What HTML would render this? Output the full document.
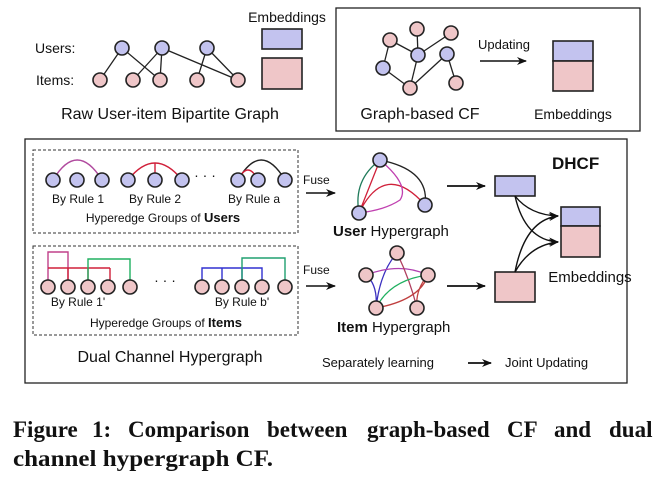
<!DOCTYPE html>
<html><head><meta charset="utf-8"><style>
html,body{margin:0;padding:0;background:#fff}
svg{display:block}
text{font-family:"Liberation Sans",sans-serif;fill:#111}
.c{font-family:"Liberation Serif",serif;font-weight:bold;font-size:23px}
.u{fill:#c3c3ef;stroke:#222;stroke-width:1.6}
.i{fill:#efc6c8;stroke:#222;stroke-width:1.6}
.e{stroke:#222;stroke-width:1.3;fill:none}
</style></head><body>
<svg width="667" height="482" viewBox="0 0 667 482" xmlns="http://www.w3.org/2000/svg">
<defs><marker id="a" markerWidth="10" markerHeight="8" refX="9" refY="4" orient="auto" markerUnits="userSpaceOnUse"><path d="M0,0 L10,4 L0,8 L3,4z" fill="#111"/></marker></defs>
<!-- top-left -->
<text x="35" y="53" font-size="14">Users:</text>
<text x="36" y="85" font-size="14">Items:</text>
<g class="e">
<line x1="122" y1="48" x2="100" y2="80"/><line x1="122" y1="48" x2="160" y2="80"/>
<line x1="162" y1="48" x2="133" y2="80"/><line x1="162" y1="48" x2="160" y2="80"/><line x1="162" y1="48" x2="238" y2="80"/>
<line x1="207" y1="48" x2="197" y2="80"/><line x1="207" y1="48" x2="238" y2="80"/>
</g>
<circle class="u" cx="122" cy="48" r="7"/><circle class="u" cx="162" cy="48" r="7"/><circle class="u" cx="207" cy="48" r="7"/>
<circle class="i" cx="100" cy="80" r="7"/><circle class="i" cx="133" cy="80" r="7"/><circle class="i" cx="160" cy="80" r="7"/><circle class="i" cx="197" cy="80" r="7"/><circle class="i" cx="238" cy="80" r="7"/>
<text x="170" y="119" font-size="16" text-anchor="middle">Raw User-item Bipartite Graph</text>
<text x="287" y="22" font-size="14" text-anchor="middle">Embeddings</text>
<rect x="262" y="29" width="40" height="20" class="u"/>
<rect x="262" y="58" width="40" height="31" class="i"/>
<!-- top-right box -->
<rect x="336" y="8" width="304" height="123" fill="none" stroke="#222" stroke-width="1.3"/>
<g class="e">
<line x1="390" y1="40" x2="383" y2="68"/><line x1="390" y1="40" x2="418" y2="55"/><line x1="417" y1="29" x2="418" y2="55"/><line x1="451" y1="33" x2="418" y2="55"/><line x1="418" y1="55" x2="410" y2="88"/><line x1="383" y1="68" x2="410" y2="88"/><line x1="410" y1="88" x2="447" y2="54"/><line x1="447" y1="54" x2="456" y2="83"/>
</g>
<circle class="i" cx="390" cy="40" r="7"/><circle class="i" cx="417" cy="29" r="7"/><circle class="i" cx="451" cy="33" r="7"/>
<circle class="u" cx="383" cy="68" r="7"/><circle class="u" cx="418" cy="55" r="7"/><circle class="u" cx="447" cy="54" r="7"/>
<circle class="i" cx="410" cy="88" r="7"/><circle class="i" cx="456" cy="83" r="7"/>
<text x="504" y="49" font-size="13" text-anchor="middle">Updating</text>
<line x1="480" y1="61" x2="526" y2="61" stroke="#111" stroke-width="1.5" marker-end="url(#a)"/>
<rect x="553" y="41" width="40" height="20" class="u"/><rect x="553" y="61" width="40" height="30" class="i"/>
<text x="420" y="119" font-size="16" text-anchor="middle">Graph-based CF</text>
<text x="573" y="119" font-size="14" text-anchor="middle">Embeddings</text>
<!-- bottom box -->
<rect x="25" y="139" width="602" height="244" fill="none" stroke="#222" stroke-width="1.3"/>
<rect x="33" y="150" width="265" height="83" fill="none" stroke="#333" stroke-dasharray="3,2"/>
<rect x="33" y="246" width="265" height="89" fill="none" stroke="#333" stroke-dasharray="3,2"/>
<path d="M53,180 Q77,140 102,180" stroke="#b04a9e" stroke-width="1.4" fill="none"/>
<path d="M128,180 Q155,146 182,180" stroke="#d0203a" stroke-width="1.4" fill="none"/>
<line x1="155" y1="163" x2="155" y2="180" stroke="#d0203a" stroke-width="1.4"/>
<path d="M238,180 Q261,140 285,180" stroke="#222" stroke-width="1.4" fill="none"/>
<path d="M238,180 Q248,160 258,180" stroke="#d0203a" stroke-width="1.4" fill="none"/>
<circle class="u" cx="53" cy="180" r="7"/><circle class="u" cx="77" cy="180" r="7"/><circle class="u" cx="102" cy="180" r="7"/>
<circle class="u" cx="128" cy="180" r="7"/><circle class="u" cx="155" cy="180" r="7"/><circle class="u" cx="182" cy="180" r="7"/>
<circle class="u" cx="238" cy="180" r="7"/><circle class="u" cx="258" cy="180" r="7"/><circle class="u" cx="285" cy="180" r="7"/>
<text x="205" y="180" font-size="14" text-anchor="middle">· · ·</text>
<text x="78" y="203" font-size="12" text-anchor="middle">By Rule 1</text>
<text x="155" y="203" font-size="12" text-anchor="middle">By Rule 2</text>
<text x="254" y="203" font-size="12" text-anchor="middle">By Rule a</text>
<text x="163" y="222" font-size="12" text-anchor="middle">Hyperedge Groups of <tspan font-weight="bold" font-size="13">Users</tspan></text>
<!-- item hyperedges -->
<g fill="none" stroke-width="1.4">
<path d="M48,287 V252 H68 V287" stroke="#c0408a"/>
<path d="M48,268 H110 M68,268 V287 M88,268 V287 M110,268 V287" stroke="#d0203a"/>
<path d="M88,287 V259 H130 V287" stroke="#20b060"/>
<path d="M202,287 V268 H262 V287 M222,268 V287 M242,268 V287" stroke="#3030d0"/>
<path d="M242,287 V258 H285 V287" stroke="#20a070"/>
</g>
<circle class="i" cx="48" cy="287" r="7"/><circle class="i" cx="68" cy="287" r="7"/><circle class="i" cx="88" cy="287" r="7"/><circle class="i" cx="108" cy="287" r="7"/><circle class="i" cx="130" cy="287" r="7"/>
<circle class="i" cx="202" cy="287" r="7"/><circle class="i" cx="222" cy="287" r="7"/><circle class="i" cx="242" cy="287" r="7"/><circle class="i" cx="262" cy="287" r="7"/><circle class="i" cx="285" cy="287" r="7"/>
<text x="165" y="285" font-size="14" text-anchor="middle">· · ·</text>
<text x="78" y="306" font-size="12" text-anchor="middle">By Rule 1'</text>
<text x="242" y="306" font-size="12" text-anchor="middle">By Rule b'</text>
<text x="166" y="327" font-size="12" text-anchor="middle">Hyperedge Groups of <tspan font-weight="bold" font-size="13">Items</tspan></text>
<text x="170" y="362" font-size="16" text-anchor="middle">Dual Channel Hypergraph</text>
<!-- fuse -->
<text x="303" y="184" font-size="12">Fuse</text>
<line x1="306" y1="193" x2="335" y2="193" stroke="#111" stroke-width="1.5" marker-end="url(#a)"/>
<text x="303" y="274" font-size="12">Fuse</text>
<line x1="306" y1="286" x2="335" y2="286" stroke="#111" stroke-width="1.5" marker-end="url(#a)"/>
<!-- user hypergraph -->
<g fill="none" stroke-width="1.3">
<path d="M380,160 Q353,180 359,213" stroke="#1f7a5a"/>
<path d="M380,160 Q430,170 425,205" stroke="#222"/>
<path d="M380,160 L359,213 M359,213 Q385,160 425,205" stroke="#d0203a"/>
<path d="M380,160 Q410,185 400,200 Q385,210 359,213" stroke="#c040b0"/>
</g>
<circle class="u" cx="380" cy="160" r="7"/><circle class="u" cx="359" cy="213" r="7"/><circle class="u" cx="425" cy="205" r="7"/>
<text x="333" y="236" font-size="15"><tspan font-weight="bold">User</tspan> Hypergraph</text>
<!-- item hypergraph -->
<g fill="none" stroke-width="1.3">
<path d="M397,253 Q380,272 376,308 M366,275 Q378,285 376,308" stroke="#3a30c0"/>
<path d="M366,275 Q400,262 428,275" stroke="#b040b0"/>
<path d="M397,253 Q410,280 417,308" stroke="#b04060"/>
<path d="M376,308 Q390,280 428,275" stroke="#20b060"/>
<path d="M376,308 Q420,300 428,275 Q415,290 417,308" stroke="#c04040"/>
</g>
<circle class="i" cx="397" cy="253" r="7"/><circle class="i" cx="366" cy="275" r="7"/><circle class="i" cx="428" cy="275" r="7"/><circle class="i" cx="376" cy="308" r="7"/><circle class="i" cx="417" cy="308" r="7"/>
<text x="337" y="332" font-size="15"><tspan font-weight="bold">Item</tspan> Hypergraph</text>
<!-- right part -->
<text x="552" y="169" font-size="17" font-weight="bold">DHCF</text>
<line x1="447" y1="186" x2="485" y2="186" stroke="#111" stroke-width="1.8" marker-end="url(#a)"/>
<line x1="447" y1="286" x2="485" y2="286" stroke="#111" stroke-width="1.8" marker-end="url(#a)"/>
<rect x="495" y="176" width="40" height="20" class="u"/>
<rect x="495" y="272" width="40" height="30" class="i"/>
<g fill="none" stroke="#111" stroke-width="1.4">
<path d="M515,196 Q530,215 558,216" marker-end="url(#a)"/>
<path d="M515,196 Q525,240 558,242" marker-end="url(#a)"/>
<path d="M515,272 Q525,220 558,216" marker-end="url(#a)"/>
<path d="M515,272 Q530,245 558,242" marker-end="url(#a)"/>
</g>
<rect x="561" y="207" width="39" height="19" class="u"/><rect x="561" y="226" width="39" height="31" class="i"/>
<text x="590" y="282" font-size="15" text-anchor="middle">Embeddings</text>
<text x="322" y="367" font-size="13">Separately learning</text>
<line x1="468" y1="363" x2="491" y2="363" stroke="#111" stroke-width="1.8" marker-end="url(#a)"/>
<text x="505" y="367" font-size="13">Joint Updating</text>
<!-- caption -->
<text class="c" x="13" y="437">Figure</text>
<text class="c" x="92" y="437">1:</text>
<text class="c" x="128" y="437">Comparison</text>
<text class="c" x="267" y="437">between</text>
<text class="c" x="367" y="437">graph-based</text>
<text class="c" x="507" y="437">CF</text>
<text class="c" x="554" y="437">and</text>
<text class="c" x="609" y="437">dual</text>
<text class="c" x="13" y="466" textLength="260" lengthAdjust="spacingAndGlyphs">channel hypergraph CF.</text>
</svg>
</body></html>
